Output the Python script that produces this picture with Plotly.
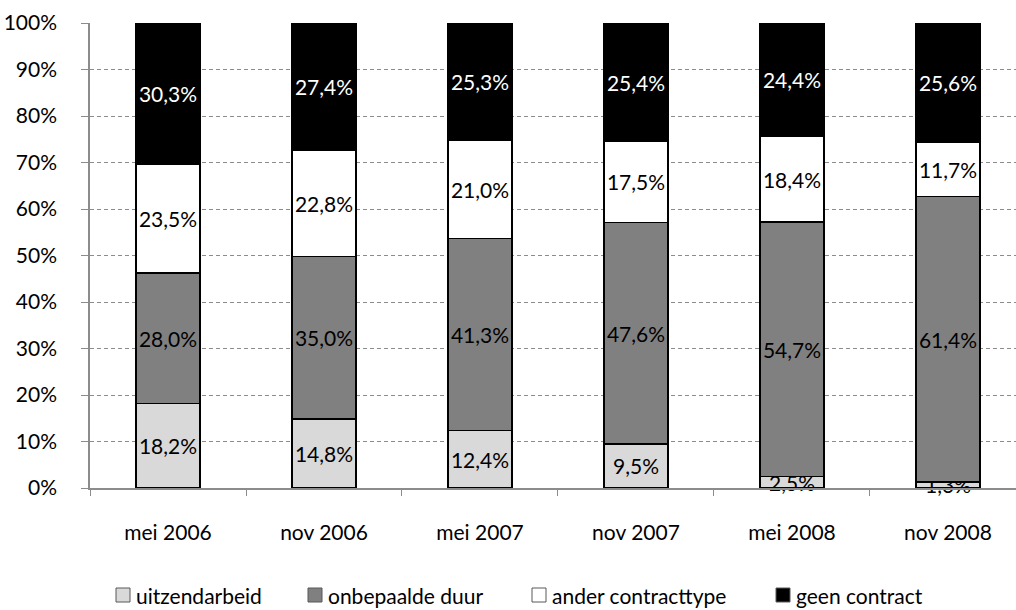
import plotly.graph_objects as go

# Periods and share of each contract type (%)
periods = ["mei 2006", "nov 2006", "mei 2007", "nov 2007", "mei 2008", "nov 2008"]
uitzendarbeid = [18.2, 14.8, 12.4, 9.5, 2.5, 1.3]
onbepaalde_duur = [28.0, 35.0, 41.3, 47.6, 54.7, 61.4]
ander_contracttype = [23.5, 22.8, 21.0, 17.5, 18.4, 11.7]
geen_contract = [30.3, 27.4, 25.3, 25.4, 24.4, 25.6]

y_ticks = list(range(0, 101, 10))
y_tick_labels = [f"{v}%" for v in y_ticks]

FONT = "Lato, 'Open Sans', sans-serif"
FS = 21
GRID = "#8c8c8c"

W, H = 1016, 610
ML, MR, MT, MB = 90, 0, 23, 122
PW, PH = W - ML - MR, H - MT - MB


def pct(values):
    return [f"{v:.1f}%".replace(".", ",") for v in values]


def px_x(px):
    return (px - ML) / PW


def px_y(py):
    return (H - MB - py) / PH


series = [
    ("uitzendarbeid", uitzendarbeid, "#d9d9d9", "black"),
    ("onbepaalde duur", onbepaalde_duur, "#808080", "black"),
    ("ander contracttype", ander_contracttype, "#ffffff", "black"),
    ("geen contract", geen_contract, "#000000", "white"),
]

fig = go.Figure()
for name, vals, fill, txt in series:
    fig.add_trace(go.Bar(
        x=periods, y=vals, name=name,
        marker=dict(color=fill, line=dict(color="black", width=1.5)),
        text=pct(vals), textposition="inside", insidetextanchor="middle",
        constraintext="none", textangle=0, cliponaxis=False,
        textfont=dict(family=FONT, size=FS, color=txt),
        width=0.41, hoverinfo="skip", showlegend=False,
    ))

# Legend row below the axis: small square swatch followed by its label
legend_left_px = [116, 308, 532, 776]
legend_cy_px = 595
sq = 14
for (name, _, fill, _), lx in zip(series, legend_left_px):
    fig.add_shape(
        type="rect", xref="paper", yref="paper",
        x0=px_x(lx), x1=px_x(lx + sq),
        y0=px_y(legend_cy_px + sq / 2), y1=px_y(legend_cy_px - sq / 2),
        fillcolor=fill, line=dict(color="#595959", width=1),
    )
    fig.add_annotation(
        x=px_x(lx + sq + 4), y=px_y(legend_cy_px), xref="paper", yref="paper",
        text=name, showarrow=False, xanchor="left", yanchor="middle",
        font=dict(family=FONT, size=FS, color="black"),
    )

fig.update_layout(
    barmode="stack",
    width=W, height=H,
    margin=dict(l=ML, r=MR, t=MT, b=MB),
    paper_bgcolor="white", plot_bgcolor="white",
    font=dict(family=FONT, size=FS, color="black"),
    showlegend=False,
    xaxis=dict(
        type="category", range=[-0.5, 5.436],
        showline=True, linecolor=GRID, linewidth=1.5,
        ticks="outside", tickson="boundaries", ticklen=6, tickcolor=GRID,
        ticklabelstandoff=25, showgrid=False,
        tickfont=dict(family=FONT, size=FS),
    ),
    yaxis=dict(
        range=[0, 100], tickmode="array", tickvals=y_ticks, ticktext=y_tick_labels,
        showline=True, linecolor=GRID, linewidth=1.5,
        ticks="outside", ticklen=7, tickcolor=GRID,
        ticklabelstandoff=20,
        showgrid=True, gridcolor=GRID, griddash="4px,3px", gridwidth=1,
        zeroline=False,
        tickfont=dict(family=FONT, size=FS),
    ),
)

fig.write_html("out.html")
